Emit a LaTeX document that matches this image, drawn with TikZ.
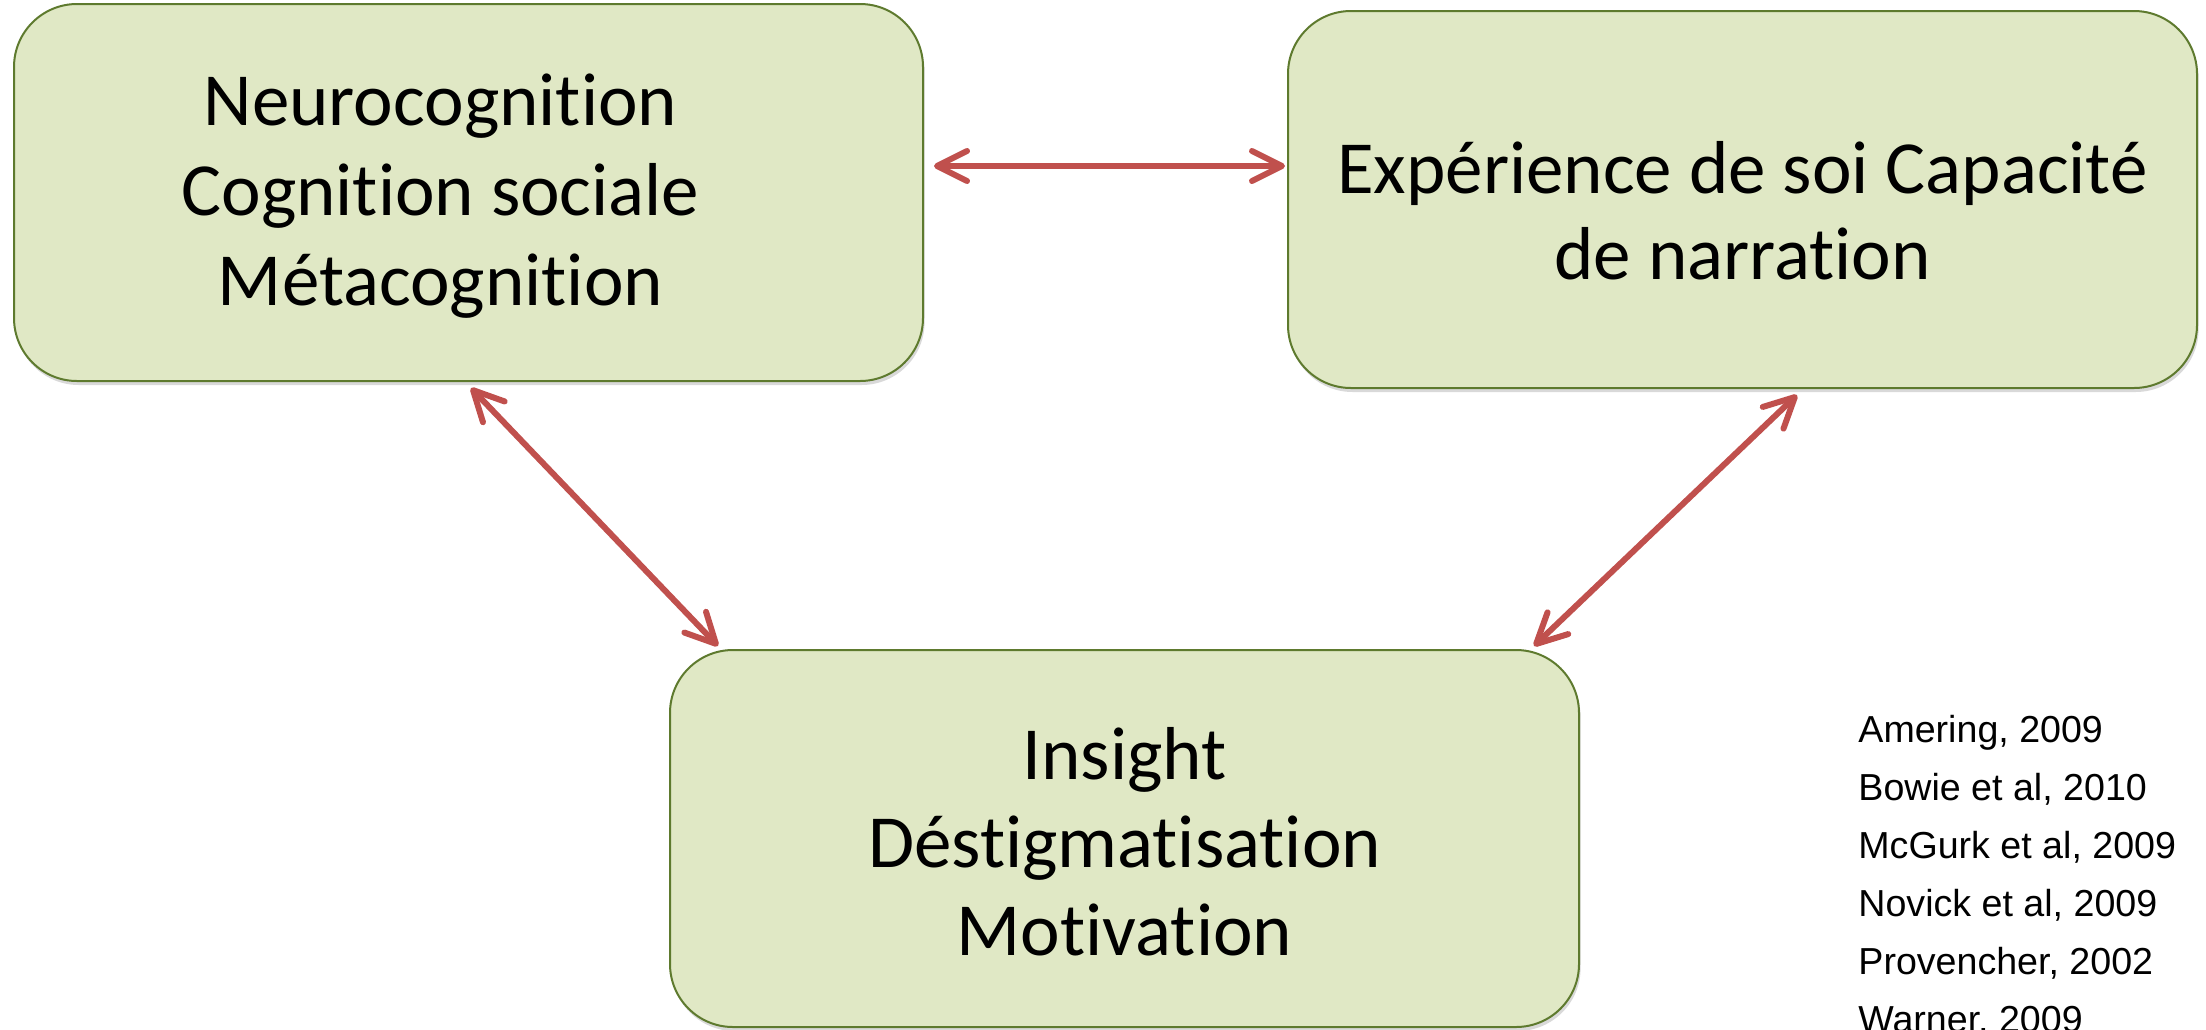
\documentclass[tikz,border=0pt]{standalone}
\usepackage{fontspec}
\setmainfont{Carlito}[Ligatures=NoCommon]
\newfontfamily\reffont{Liberation Sans}
\usetikzlibrary{arrows.meta,shadows}
\definecolor{boxfill}{HTML}{E0E8C5}
\definecolor{boxline}{HTML}{5E7A2E}
\definecolor{arrowred}{HTML}{C0504D}
\tikzset{
  greenbox/.style={draw=boxline, line width=1pt, fill=boxfill, rounded corners=31.5pt,
    minimum width=454.5pt, minimum height=188.5pt, inner sep=0pt,
    drop shadow={shadow xshift=0.8pt, shadow yshift=-2pt, opacity=0.15, fill=black}},
  boxtext/.style={align=center, inner sep=0pt, font=\fontsize{37.5}{#1}\selectfont},
  link/.style={draw=arrowred, line width=3pt, line cap=round,
    {Straight Barb[length=15pt,width=15pt,round]}-{Straight Barb[length=15pt,width=15pt,round]}},
  reftext/.style={anchor=north west, inner sep=0pt, align=left,
    font=\reffont\fontsize{18.8}{29}\selectfont}
}
\begin{document}
\begin{tikzpicture}[x=0.5pt,y=-0.5pt]
\useasboundingbox (0,0) rectangle (2206,1029);
\clip (0,0) rectangle (2206,1029);
\node[greenbox] (b1) at (468.5,192.5) {};
\node[greenbox] (b2) at (1742.5,199.5) {};
\node[greenbox] (b3) at (1124.5,838.5) {};
\node[boxtext=45] (t1) at ([xshift=-14pt,yshift=-2pt]b1.center) {Neurocognition\\Cognition sociale\\Métacognition};
\node[boxtext=43] (t2) at ([yshift=-5.5pt]b2.center) {Expérience de soi Capacité\\de narration};
\node[boxtext=44] (t3) at ([yshift=-1.5pt]b3.center) {Insight\\Déstigmatisation\\Motivation};
\draw[link] ([xshift=5pt,yshift=13.25pt]b1.east) -- ([xshift=-1pt,yshift=16.75pt]b2.west);
\draw[link] ([xshift=1.25pt,yshift=-3pt]b1.south) -- ([xshift=-203.25pt,yshift=1.5pt]b3.north);
\draw[link] ([xshift=27.25pt,yshift=-3pt]b2.south) -- ([xshift=204.75pt,yshift=1.5pt]b3.north);
\node[reftext] (refs) at (1858,715) {Amering, 2009\\Bowie et al, 2010\\McGurk et al, 2009\\Novick et al, 2009\\Provencher, 2002\\Warner, 2009};
\end{tikzpicture}
\end{document}
